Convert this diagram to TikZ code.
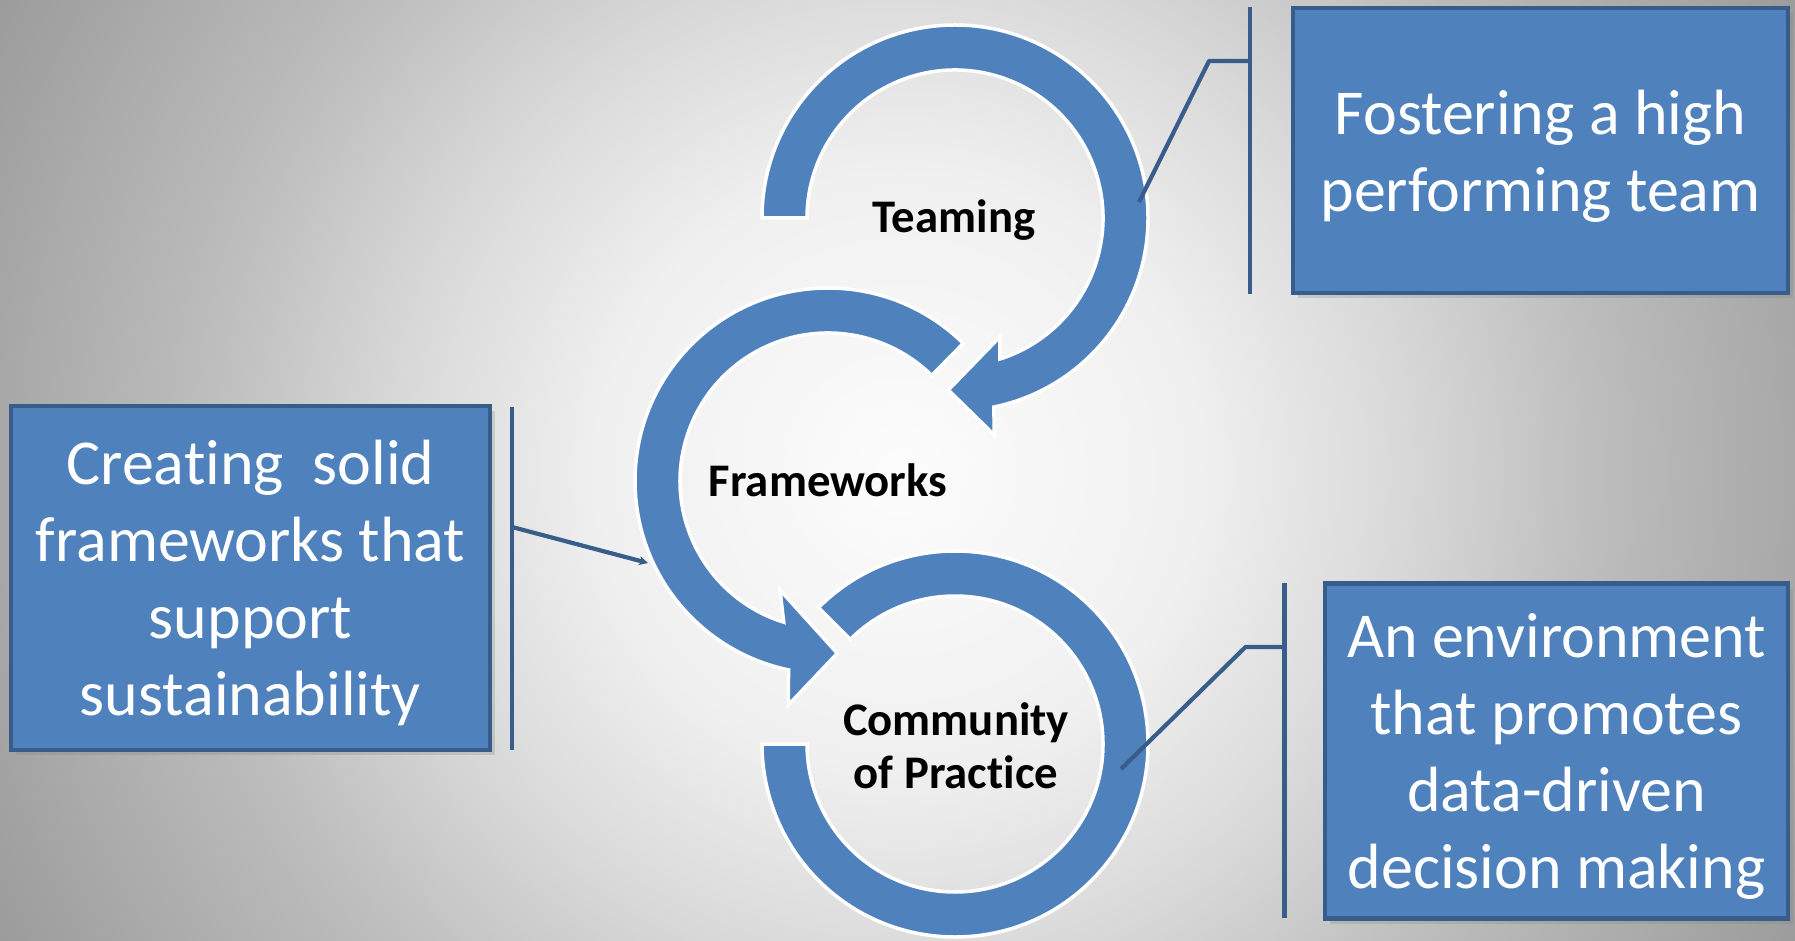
\documentclass[tikz,border=0pt]{standalone}
\usepackage{fontspec}
\setmainfont{Carlito}[Ligatures=NoCommon]
\usetikzlibrary{calc,arrows.meta,shadows}
\definecolor{ringblue}{HTML}{4F81BD}
\definecolor{edgeblue}{HTML}{385D8A}
\pgfdeclareradialshading{bgglow}{\pgfpoint{0bp}{0bp}}{color(0bp)=(black!1); color(6.8bp)=(black!6); color(11.4bp)=(black!15); color(15.9bp)=(black!26); color(23.1bp)=(black!39); color(25bp)=(black!40); color(50bp)=(black!40)}
\begin{document}
\begin{tikzpicture}[x=0.1mm, y=-0.1mm,
  ring/.style={fill=ringblue, draw=white, line width=0.35mm, line join=miter},
  infobox/.style={fill=ringblue, draw=edgeblue, line width=0.45mm, text=white, align=center,
    font=\fontsize{18.2}{21.9}\selectfont, inner sep=0pt, text depth=0pt,
    drop shadow={opacity=0.25, shadow xshift=0.5mm, shadow yshift=-0.5mm}},
  ringtext/.style={font=\bfseries\fontsize{13.3}{15.1}\selectfont, align=center, text=black},
  callout/.style={draw=edgeblue, line width=0.42mm},
]
\useasboundingbox (0,0) rectangle (1795,941);
\begin{scope}
  \clip (0,0) rectangle (1795,941);
  \shade[shading=bgglow] (900,470) circle[radius=1100];
\end{scope}

% ring centres
\coordinate (T) at (955,218);
\coordinate (F) at (828,481);
\coordinate (C) at (955,744);

% Community of Practice ring (no arrowhead)
\path[ring] ($(C)+(225:193)$) arc[start angle=225, end angle=540, radius=193]
  -- ($(C)+(540:148)$) arc[start angle=540, end angle=225, radius=148] -- cycle;

% Frameworks ring with arrowhead
\path[ring] ($(F)+(-45.5:193)$) arc[start angle=-45.5, end angle=-258.2, radius=193]
  -- (788.3,705) -- (837.3,653.3) -- (780,590)
  -- ($(F)+(-252.6:148)$) arc[start angle=-252.6, end angle=-45.5, radius=148] -- cycle;

% Teaming ring with arrowhead
\path[ring] ($(T)+(180:193)$) arc[start angle=180, end angle=438.4, radius=193]
  -- (994.3,435) -- (948.3,390) -- (1000,336.7)
  -- ($(T)+(432.4:148)$) arc[start angle=432.4, end angle=180, radius=148] -- cycle;

% ring labels
\node[ringtext, anchor=base] (lt) at (954,233) {Teaming};
\node[ringtext, anchor=base] (lf) at (828,497) {Frameworks};
\node[ringtext] (lc) at (956,746) {Community\\of Practice};

% boxes
\node[infobox, minimum width=49.5mm, minimum height=28.5mm] (b1) at (1540.5,150.5)
  {Fostering a high\\performing team};
\node[infobox, minimum width=47.9mm, minimum height=34.4mm] (b2) at (250.5,578)
  {Creating~ solid\\frameworks that\\support\\sustainability};
\node[infobox, minimum width=46.3mm, minimum height=33.5mm] (b3) at (1556.5,751)
  {An environment\\that promotes\\data-driven\\decision making};

% callout brackets
\coordinate (ta) at (1250,7);
\coordinate (tb) at (1250,294);
\coordinate (tc) at (1250,61);
\coordinate (td) at (1209,61);
\coordinate (te) at (1139,202);
\draw[callout] (ta) -- (tb);
\draw[callout, line join=round] (tc) -- (td) -- (te);

\coordinate (la) at (512,407);
\coordinate (lb) at (512,750);
\coordinate (lc1) at (512,527);
\coordinate (ld) at (648,563);
\draw[callout] (la) -- (lb);
\draw[callout, -{Stealth[length=0.9mm,width=0.9mm]}] (lc1) -- (ld);

\coordinate (ra) at (1284.5,583);
\coordinate (rb) at (1284.5,918);
\coordinate (rc) at (1284.5,647);
\coordinate (rd) at (1245.5,647);
\coordinate (re) at (1121,769);
\draw[callout] (ra) -- (rb);
\draw[callout, line join=round] (rc) -- (rd) -- (re);
\end{tikzpicture}
\end{document}
